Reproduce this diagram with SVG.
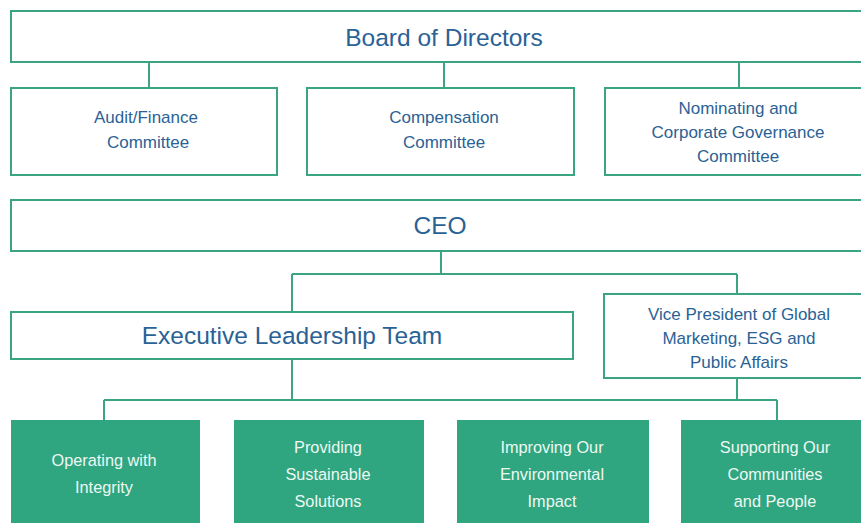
<svg xmlns="http://www.w3.org/2000/svg" width="861" height="523" viewBox="0 0 861 523">
<style>
.box{fill:#ffffff;stroke:#3ba580;stroke-width:2}
.fbox{fill:#2fa680;stroke:none}
.conn{fill:none;stroke:#3ba580;stroke-width:2}
text{font-family:"Liberation Sans",Arial,sans-serif;text-anchor:middle}
.t{fill:#2a6295;font-size:17px}
.big{fill:#2a6295;font-size:24.5px}
.w{fill:#eef8f3;font-size:16.3px}
</style>
<rect width="861" height="523" fill="#ffffff"/>
<g id="connectors">
<path class="conn" d="M149 62V88M444 62V88M739 62V88"/>
<path class="conn" d="M441 251V274M292 274H737M292 274V312M737 274V294"/>
<path class="conn" d="M292 359V400M104 400H777M104 400V420M777 400V420M737 378V400"/>
</g>
<g id="board"><rect class="box" x="11" y="11" width="870" height="51"/><text class="big" x="444" y="46">Board of Directors</text></g>
<g id="audit"><rect class="box" x="11" y="88" width="266" height="87"/><text class="t" x="146" y="123">Audit/Finance</text><text class="t" x="148" y="148">Committee</text></g>
<g id="compensation"><rect class="box" x="307" y="88" width="267" height="87"/><text class="t" x="444" y="123">Compensation</text><text class="t" x="444" y="148">Committee</text></g>
<g id="nominating"><rect class="box" x="605" y="88" width="270" height="87"/><text class="t" x="738" y="114">Nominating and</text><text class="t" x="738" y="138">Corporate Governance</text><text class="t" x="738" y="162">Committee</text></g>
<g id="ceo"><rect class="box" x="11" y="200" width="870" height="51"/><text class="big" x="440" y="234">CEO</text></g>
<g id="elt"><rect class="box" x="11" y="312" width="562" height="47"/><text class="big" x="292" y="344">Executive Leadership Team</text></g>
<g id="vp"><rect class="box" x="604" y="294" width="270" height="84"/><text class="t" x="739" y="320">Vice President of Global</text><text class="t" x="739" y="344">Marketing, ESG and</text><text class="t" x="739" y="368">Public Affairs</text></g>
<g id="integrity"><rect class="fbox" x="11" y="420" width="189" height="110"/><text class="w" x="104" y="466">Operating with</text><text class="w" x="104" y="493">Integrity</text></g>
<g id="solutions"><rect class="fbox" x="234" y="420" width="190" height="110"/><text class="w" x="328" y="453">Providing</text><text class="w" x="328" y="480">Sustainable</text><text class="w" x="328" y="507">Solutions</text></g>
<g id="environment"><rect class="fbox" x="457" y="420" width="192" height="110"/><text class="w" x="552" y="453">Improving Our</text><text class="w" x="552" y="480">Environmental</text><text class="w" x="552" y="507">Impact</text></g>
<g id="communities"><rect class="fbox" x="681" y="420" width="190" height="110"/><text class="w" x="775" y="453">Supporting Our</text><text class="w" x="775" y="480">Communities</text><text class="w" x="775" y="507">and People</text></g>
</svg>
